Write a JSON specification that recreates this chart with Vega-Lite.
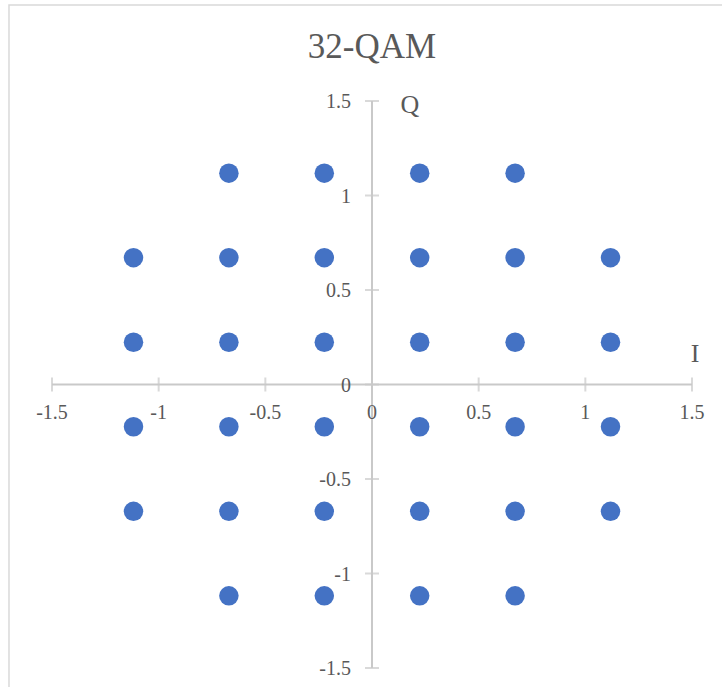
{
  "$schema": "https://vega.github.io/schema/vega-lite/v6.json",
  "width": 640,
  "height": 567,
  "autosize": {"type": "none"},
  "padding": {"left": 52, "top": 101, "right": 30, "bottom": 19},
  "background": "white",
  "config": {"view": {"stroke": null}},
  "datasets": {
    "constellation": [
      {"i": -0.6708, "q": 1.118}, {"i": -0.2236, "q": 1.118}, {"i": 0.2236, "q": 1.118}, {"i": 0.6708, "q": 1.118},
      {"i": -1.118, "q": 0.6708}, {"i": -0.6708, "q": 0.6708}, {"i": -0.2236, "q": 0.6708}, {"i": 0.2236, "q": 0.6708}, {"i": 0.6708, "q": 0.6708}, {"i": 1.118, "q": 0.6708},
      {"i": -1.118, "q": 0.2236}, {"i": -0.6708, "q": 0.2236}, {"i": -0.2236, "q": 0.2236}, {"i": 0.2236, "q": 0.2236}, {"i": 0.6708, "q": 0.2236}, {"i": 1.118, "q": 0.2236},
      {"i": -1.118, "q": -0.2236}, {"i": -0.6708, "q": -0.2236}, {"i": -0.2236, "q": -0.2236}, {"i": 0.2236, "q": -0.2236}, {"i": 0.6708, "q": -0.2236}, {"i": 1.118, "q": -0.2236},
      {"i": -1.118, "q": -0.6708}, {"i": -0.6708, "q": -0.6708}, {"i": -0.2236, "q": -0.6708}, {"i": 0.2236, "q": -0.6708}, {"i": 0.6708, "q": -0.6708}, {"i": 1.118, "q": -0.6708},
      {"i": -0.6708, "q": -1.118}, {"i": -0.2236, "q": -1.118}, {"i": 0.2236, "q": -1.118}, {"i": 0.6708, "q": -1.118}
    ],
    "axisLines": [
      {"x1": -1.5, "x2": 1.5, "y1": 0, "y2": 0},
      {"x1": 0, "x2": 0, "y1": -1.5, "y2": 1.5}
    ],
    "ticks": [
      {"v": -1.5, "label": "-1.5"}, {"v": -1, "label": "-1"}, {"v": -0.5, "label": "-0.5"},
      {"v": 0, "label": "0"}, {"v": 0.5, "label": "0.5"}, {"v": 1, "label": "1"}, {"v": 1.5, "label": "1.5"}
    ],
    "axisNames": [
      {"x": 0.178, "y": 1.479, "name": "Q"},
      {"x": 1.514, "y": 0.161, "name": "I"}
    ],
    "heading": [
      {"x": 0, "y": 1.7275, "text": "32-QAM"}
    ],
    "frame": [
      {"x1": -1.7016, "x2": 1.75, "y1": 2.008, "y2": -1.9}
    ]
  },
  "layer": [
    {
      "data": {"name": "frame"},
      "mark": {"type": "rect", "fill": null, "stroke": "#d9d9d9", "strokeWidth": 1.5},
      "encoding": {
        "x": {"field": "x1", "type": "quantitative", "axis": null, "scale": {"domain": [-1.5, 1.5], "nice": false, "zero": false}},
        "x2": {"field": "x2"},
        "y": {"field": "y1", "type": "quantitative", "axis": null, "scale": {"domain": [-1.5, 1.5], "nice": false, "zero": false}},
        "y2": {"field": "y2"}
      }
    },
    {
      "data": {"name": "heading"},
      "mark": {"type": "text", "font": "Liberation Serif", "fontSize": 35, "color": "#595959", "align": "center", "baseline": "alphabetic"},
      "encoding": {
        "x": {"field": "x", "type": "quantitative", "axis": null},
        "y": {"field": "y", "type": "quantitative", "axis": null},
        "text": {"field": "text"}
      }
    },
    {
      "data": {"name": "axisLines"},
      "mark": {"type": "rule", "color": "#c9c9c9", "strokeWidth": 2},
      "encoding": {
        "x": {"field": "x1", "type": "quantitative", "axis": null},
        "x2": {"field": "x2"},
        "y": {"field": "y1", "type": "quantitative", "axis": null},
        "y2": {"field": "y2"}
      }
    },
    {
      "data": {"name": "ticks"},
      "mark": {"type": "tick", "orient": "vertical", "color": "#c9c9c9", "size": 14, "thickness": 2},
      "encoding": {
        "x": {"field": "v", "type": "quantitative", "axis": null},
        "y": {"datum": 0, "type": "quantitative", "axis": null}
      }
    },
    {
      "data": {"name": "ticks"},
      "mark": {"type": "tick", "orient": "horizontal", "color": "#c9c9c9", "size": 14, "thickness": 2},
      "encoding": {
        "y": {"field": "v", "type": "quantitative", "axis": null},
        "x": {"datum": 0, "type": "quantitative", "axis": null}
      }
    },
    {
      "data": {"name": "ticks"},
      "mark": {"type": "text", "font": "Liberation Serif", "fontSize": 20, "color": "#595959", "align": "center", "baseline": "middle", "dy": 28},
      "encoding": {
        "x": {"field": "v", "type": "quantitative", "axis": null},
        "y": {"datum": 0, "type": "quantitative", "axis": null},
        "text": {"field": "label"}
      }
    },
    {
      "data": {"name": "ticks"},
      "mark": {"type": "text", "font": "Liberation Serif", "fontSize": 20, "color": "#595959", "align": "right", "baseline": "middle", "dx": -21, "dy": 1},
      "encoding": {
        "y": {"field": "v", "type": "quantitative", "axis": null},
        "x": {"datum": 0, "type": "quantitative", "axis": null},
        "text": {"field": "label"}
      }
    },
    {
      "data": {"name": "axisNames"},
      "mark": {"type": "text", "font": "Liberation Serif", "fontSize": 26, "color": "#595959", "align": "center", "baseline": "middle"},
      "encoding": {
        "x": {"field": "x", "type": "quantitative", "axis": null},
        "y": {"field": "y", "type": "quantitative", "axis": null},
        "text": {"field": "name"}
      }
    },
    {
      "data": {"name": "constellation"},
      "mark": {"type": "point", "shape": "circle", "filled": true, "opacity": 1, "color": "#4472c4", "size": 380},
      "encoding": {
        "x": {"field": "i", "type": "quantitative", "title": "I", "axis": null},
        "y": {"field": "q", "type": "quantitative", "title": "Q", "axis": null}
      }
    }
  ]
}
